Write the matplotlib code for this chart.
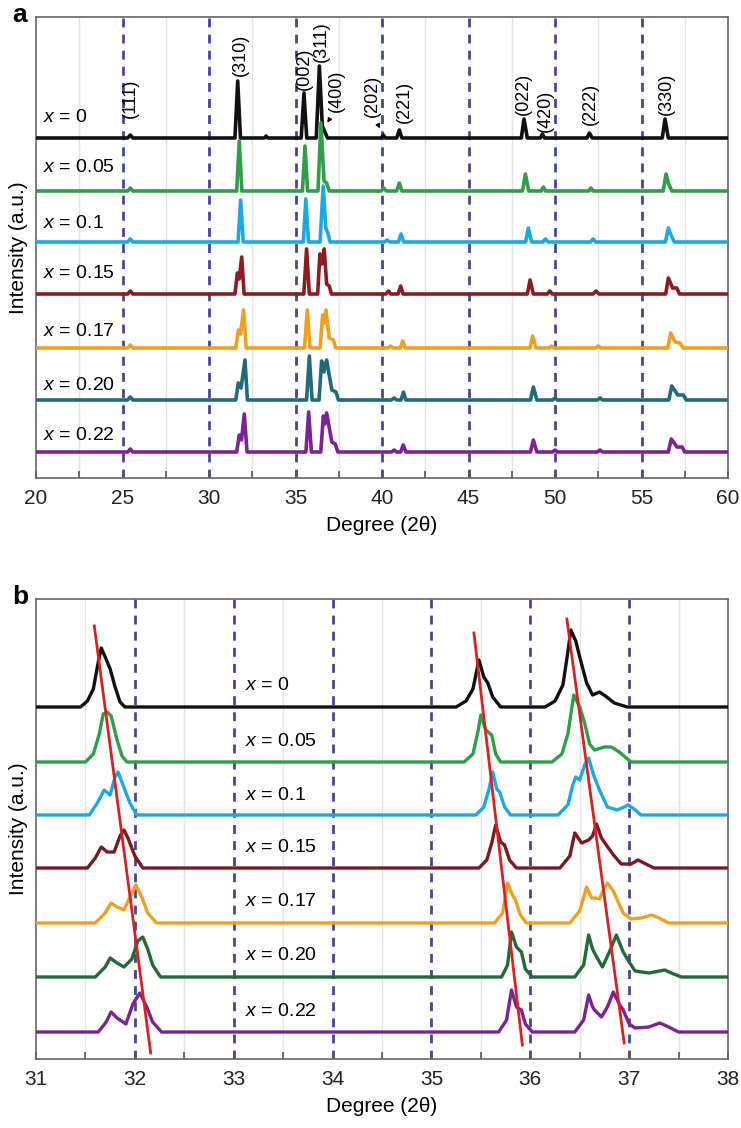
import matplotlib
matplotlib.use("Agg")
import matplotlib.pyplot as plt
from matplotlib.ticker import MultipleLocator

plt.rcParams['font.family'] = ['Liberation Sans', 'DejaVu Sans']
plt.rcParams['mathtext.fontset'] = 'custom'
plt.rcParams['mathtext.it'] = 'Liberation Sans:italic'
plt.rcParams['mathtext.rm'] = 'Liberation Sans'

# ---------------- data ----------------
compositions = ["0", "0.05", "0.1", "0.15", "0.17", "0.20", "0.22"]

# panel a: offsets (a.u.) and trace vertices (degree, intensity above baseline)
a_offsets = [340, 287, 236, 184, 130, 78, 26]
a_x = [
    [20, 25.3, 25.45, 25.6, 31.5, 31.66, 31.82, 33.2, 33.3, 33.4, 35.33, 35.49, 35.65, 36.2, 36.38, 36.55, 36.65, 36.85,
     39.95, 40.08, 40.2, 40.85, 41.0, 41.15, 48.05, 48.21, 48.4, 49.15, 49.27, 49.4, 51.85, 51.99, 52.15, 56.2, 56.36, 56.55, 60],
    [20, 25.3, 25.45, 25.6, 31.6, 31.75, 31.9, 35.4, 35.55, 35.7, 36.3, 36.47, 36.65, 36.8, 36.95,
     39.95, 40.1, 40.25, 40.85, 41.0, 41.15, 48.12, 48.29, 48.48, 49.2, 49.33, 49.45, 51.95, 52.07, 52.2, 56.25, 56.42, 56.55, 56.75, 60],
    [20, 25.3, 25.45, 25.6, 31.68, 31.83, 31.98, 35.45, 35.6, 35.75, 36.42, 36.6, 36.75, 36.85, 37.0,
     40.15, 40.3, 40.45, 40.95, 41.1, 41.25, 48.3, 48.46, 48.65, 49.3, 49.45, 49.6, 52.05, 52.2, 52.35, 56.38, 56.55, 56.7, 56.9, 60],
    [20, 25.3, 25.45, 25.6, 31.5, 31.64, 31.75, 31.89, 32.03, 35.48, 35.64, 35.8, 36.28, 36.41, 36.52, 36.66, 36.8, 36.95, 37.08,
     40.22, 40.37, 40.5, 40.93, 41.08, 41.22, 48.4, 48.56, 48.75, 49.55, 49.7, 49.85, 52.2, 52.37, 52.55, 56.4, 56.55, 56.8, 57.04, 57.2, 60],
    [20, 25.3, 25.45, 25.6, 31.55, 31.7, 31.82, 32.0, 32.15, 35.52, 35.68, 35.84, 36.42, 36.57, 36.66, 36.76, 36.95, 37.19, 37.32,
     40.35, 40.5, 40.65, 41.05, 41.2, 41.35, 48.55, 48.71, 48.9, 49.65, 49.8, 49.95, 52.35, 52.5, 52.65, 56.52, 56.69, 56.95, 57.23, 57.4, 60],
    [20, 25.3, 25.45, 25.6, 31.55, 31.69, 31.85, 32.08, 32.22, 35.64, 35.8, 35.96, 36.36, 36.51, 36.64, 36.8, 37.1, 37.34, 37.48,
     40.55, 40.7, 40.85, 41.1, 41.24, 41.38, 48.58, 48.75, 48.95, 49.85, 50.0, 50.15, 52.45, 52.6, 52.75, 56.58, 56.75, 57.1, 57.42, 57.58, 60],
    [20, 25.3, 25.45, 25.6, 31.6, 31.75, 31.88, 32.04, 32.2, 35.6, 35.76, 35.92, 36.46, 36.61, 36.7, 36.8, 37.1, 37.3, 37.45,
     40.55, 40.7, 40.85, 41.08, 41.23, 41.38, 48.58, 48.75, 48.95, 49.85, 50.0, 50.15, 52.45, 52.6, 52.75, 56.55, 56.72, 57.05, 57.35, 57.5, 60],
]
a_y = [
    [0, 0, 3, 0, 0, 57, 0, 0, 2, 0, 0, 45, 0, 0, 72, 12, 8, 0, 0, 3, 0, 0, 8, 0, 0, 19, 0, 0, 4, 0, 0, 5, 0, 0, 19, 0, 0],
    [0, 0, 3, 0, 0, 50, 0, 0, 45, 0, 0, 68, 10, 8, 0, 0, 3, 0, 0, 8, 0, 0, 17, 0, 0, 4, 0, 0, 3, 0, 0, 17, 8, 0, 0],
    [0, 0, 3, 0, 0, 42, 0, 0, 43, 0, 0, 56, 14, 10, 0, 0, 2, 0, 0, 8, 0, 0, 14, 0, 0, 3, 0, 0, 3, 0, 0, 14, 7, 0, 0],
    [0, 0, 3, 0, 0, 21, 15, 37, 0, 0, 45, 0, 0, 40, 30, 45, 10, 8, 0, 0, 3, 0, 0, 8, 0, 0, 14, 0, 0, 3, 0, 0, 3, 0, 0, 16, 6, 6, 0, 0],
    [0, 0, 3, 0, 0, 18, 14, 38, 0, 0, 38, 0, 0, 33, 25, 38, 10, 8, 0, 0, 2, 0, 0, 7, 0, 0, 12, 0, 0, 2, 0, 0, 2, 0, 0, 15, 6, 5, 0, 0],
    [0, 0, 3, 0, 0, 17, 12, 40, 0, 0, 44, 0, 0, 39, 28, 40, 10, 8, 0, 0, 2, 0, 0, 8, 0, 0, 13, 0, 0, 2, 0, 0, 2, 0, 0, 14, 5, 5, 0, 0],
    [0, 0, 3, 0, 0, 17, 12, 38, 0, 0, 40, 0, 0, 36, 28, 39, 10, 8, 0, 0, 2, 0, 0, 7, 0, 0, 12, 0, 0, 2, 0, 0, 2, 0, 0, 13, 5, 5, 0, 0],
]
a_colors = ["#111111", "#2e9e48", "#1ba8e6", "#8c1c22", "#eea021", "#1f6c78", "#7d2296"]
a_label_y = [360, 310, 255, 205, 146, 93, 43]

hkl = ["(111)", "(310)", "(002)", "(311)", "(400)", "(202)", "(221)", "(022)", "(420)", "(222)", "(330)"]
hkl_x = [25.45, 31.8, 35.5, 36.47, 37.35, 39.45, 41.3, 48.2, 49.45, 52.07, 56.45]
hkl_y = [360, 402, 388, 416, 366, 361, 355, 363, 346, 353, 363]

# panel b
b_offsets = [352, 297, 244, 191, 136, 82, 27]
b_x = [
    [31, 31.45, 31.52, 31.58, 31.63, 31.66, 31.70, 31.75, 31.80, 31.85, 31.9, 35.25, 35.35, 35.42, 35.48, 35.53, 35.57, 35.62, 35.7,
     36.15, 36.25, 36.33, 36.38, 36.41, 36.46, 36.5, 36.57, 36.63, 36.70, 36.76, 36.85, 36.98, 38],
    [31, 31.5, 31.58, 31.64, 31.68, 31.72, 31.76, 31.82, 31.87, 31.92, 35.33, 35.42, 35.47, 35.5, 35.55, 35.61, 35.65, 35.7,
     36.22, 36.32, 36.38, 36.44, 36.5, 36.55, 36.6, 36.65, 36.75, 36.82, 36.9, 37.02, 38],
    [31, 31.54, 31.62, 31.69, 31.75, 31.8, 31.83, 31.88, 31.95, 32.02, 35.45, 35.53, 35.58, 35.62, 35.66, 35.69, 35.74, 35.8,
     36.28, 36.38, 36.43, 36.46, 36.5, 36.55, 36.59, 36.64, 36.7, 36.78, 36.88, 36.95, 36.99, 37.05, 37.12, 38],
    [31, 31.52, 31.6, 31.66, 31.72, 31.79, 31.85, 31.89, 31.93, 32.0, 32.08, 35.48, 35.56, 35.61, 35.65, 35.7, 35.74, 35.79, 35.86,
     36.3, 36.4, 36.45, 36.52, 36.59, 36.63, 36.67, 36.72, 36.79, 36.85, 36.92, 37.02, 37.09, 37.15, 37.25, 38],
    [31, 31.6, 31.7, 31.76, 31.82, 31.89, 31.96, 32.01, 32.07, 32.13, 32.22, 35.64, 35.72, 35.77, 35.82, 35.85, 35.9, 35.96,
     36.4, 36.5, 36.57, 36.62, 36.66, 36.7, 36.74, 36.78, 36.84, 36.88, 36.94, 37.02, 37.12, 37.23, 37.3, 37.4, 38],
    [31, 31.6, 31.7, 31.75, 31.82, 31.89, 31.97, 32.03, 32.08, 32.13, 32.18, 32.26, 35.71, 35.77, 35.81, 35.86, 35.91, 35.95, 36.02,
     36.45, 36.54, 36.59, 36.63, 36.65, 36.7, 36.73, 36.8, 36.87, 36.94, 37.0, 37.06, 37.2, 37.36, 37.45, 37.53, 38],
    [31, 31.63, 31.71, 31.76, 31.82, 31.91, 31.98, 32.05, 32.12, 32.18, 32.27, 35.68, 35.76, 35.81, 35.86, 35.91, 35.95, 36.02,
     36.45, 36.54, 36.59, 36.63, 36.65, 36.72, 36.78, 36.84, 36.9, 36.94, 37.0, 37.06, 37.2, 37.31, 37.4, 37.5, 38],
]
b_y = [
    [0, 0, 6, 18, 45, 59, 50, 38, 20, 5, 0, 0, 6, 18, 47, 30, 24, 10, 0, 0, 6, 22, 55, 77, 66, 50, 24, 12, 15, 11, 4, 0, 0],
    [0, 0, 8, 28, 48, 50, 46, 22, 6, 0, 0, 8, 30, 47, 32, 27, 8, 0, 0, 8, 28, 67, 55, 39, 18, 12, 15, 15, 10, 0, 0],
    [0, 0, 12, 25, 20, 38, 43, 30, 12, 0, 0, 8, 25, 43, 26, 23, 8, 0, 0, 10, 30, 38, 35, 50, 57, 40, 25, 8, 5, 8, 10, 6, 0, 0],
    [0, 0, 10, 21, 16, 16, 32, 38, 30, 12, 0, 0, 8, 25, 43, 26, 23, 8, 0, 0, 12, 35, 25, 28, 32, 44, 30, 20, 12, 4, 4, 8, 5, 0, 0],
    [0, 0, 10, 20, 16, 13, 28, 38, 26, 10, 0, 0, 10, 40, 28, 23, 8, 0, 0, 12, 36, 25, 25, 24, 33, 40, 32, 23, 10, 4, 5, 8, 5, 0, 0],
    [0, 0, 10, 19, 14, 10, 18, 36, 40, 28, 12, 0, 0, 12, 45, 30, 25, 8, 0, 0, 12, 42, 28, 24, 15, 10, 25, 42, 25, 15, 6, 4, 7, 3, 0, 0],
    [0, 0, 10, 20, 14, 8, 28, 39, 25, 10, 0, 0, 12, 42, 25, 22, 8, 0, 0, 12, 37, 25, 22, 15, 25, 40, 28, 22, 8, 4, 5, 9, 5, 0, 0],
]
b_colors = ["#111111", "#2e9e48", "#1ba8e6", "#7a1a20", "#eea021", "#22693a", "#7d2296"]
b_label_y = [374, 317, 264, 211, 157, 104, 47]

# red guide lines (start/end) in panel b
red_x = [(31.59, 32.16), (35.43, 35.92), (36.37, 36.95)]
red_y = [(433, 6), (426, 14), (440, 16)]

DASH = "#45459e"
GRID = "#dde8dd"


def style_axes(ax, xmin, xmax, major, minor, ymax):
    ax.set_xlim(xmin, xmax)
    ax.set_ylim(0, ymax)
    ax.xaxis.set_major_locator(MultipleLocator(major))
    ax.xaxis.set_minor_locator(MultipleLocator(minor))
    ax.set_yticks([])
    ax.tick_params(axis='x', which='both', direction='in', top=False, labelsize=15, colors='#555555',
                   labelcolor='#222222', pad=8)
    ax.tick_params(axis='x', which='major', length=5, width=1.2)
    ax.tick_params(axis='x', which='minor', length=5, width=1.2)
    for s in ax.spines.values():
        s.set_color('#666666')
        s.set_linewidth(1.2)
    # faint gridlines at minor positions, dashed at inner majors
    k = xmin + minor
    while k < xmax:
        if abs((k - xmin) / major - round((k - xmin) / major)) > 1e-6:
            ax.axvline(k, color=GRID, lw=1.0, zorder=0)
        k += minor
    for v in range(int(xmin) + major, int(xmax), major):
        ax.axvline(v, color=DASH, lw=2.0, ls=(0, (3.2, 2.6)), zorder=1)
    ax.set_xlabel("Degree (2\u03b8)", fontsize=15, labelpad=6)
    ax.set_ylabel("Intensity (a.u.)", fontsize=15, labelpad=6)


fig = plt.figure(figsize=(7.41, 11.28), dpi=100)
ax1 = fig.add_axes([36 / 741, 1 - 478 / 1128, 692 / 741, 461 / 1128])
ax2 = fig.add_axes([36 / 741, 1 - 1059 / 1128, 692 / 741, 460 / 1128])

# ---- panel a ----
style_axes(ax1, 20, 60, 5, 2.5, 461)
for i in range(len(compositions)):
    ys = [v + a_offsets[i] for v in a_y[i]]
    ax1.plot(a_x[i], ys, color=a_colors[i], lw=2.6, solid_joinstyle='round', zorder=3 + i)
    ax1.text(20.4, a_label_y[i], "$x$ = " + compositions[i], fontsize=14, va='center', ha='left', zorder=20)
for lab, xx, yy in zip(hkl, hkl_x, hkl_y):
    ax1.text(xx, yy, lab, rotation=90, fontsize=13, ha='center', va='bottom', zorder=20)
ax1.annotate("", xy=(36.75, 353), xytext=(37.05, 361),
             arrowprops=dict(arrowstyle='-|>', color='black', lw=1.0, mutation_scale=6))
ax1.annotate("", xy=(39.95, 347), xytext=(39.7, 356),
             arrowprops=dict(arrowstyle='-|>', color='black', lw=1.0, mutation_scale=6))

# ---- panel b ----
style_axes(ax2, 31, 38, 1, 0.5, 460)
for i in range(len(compositions)):
    ys = [v + b_offsets[i] for v in b_y[i]]
    ax2.plot(b_x[i], ys, color=b_colors[i], lw=2.4, solid_joinstyle='round', zorder=3 + i)
    ax2.text(33.11, b_label_y[i], "$x$ = " + compositions[i], fontsize=14, va='center', ha='left', zorder=20)
for xs, ys in zip(red_x, red_y):
    ax2.plot(xs, ys, color='#d52222', lw=2.0, zorder=15)

fig.text(12 / 741, 1 - 15 / 1128, "a", fontsize=19, fontweight='bold', va='center', ha='left')
fig.text(12 / 741, 1 - 597 / 1128, "b", fontsize=19, fontweight='bold', va='center', ha='left')

fig.savefig("out.png", dpi=100)
